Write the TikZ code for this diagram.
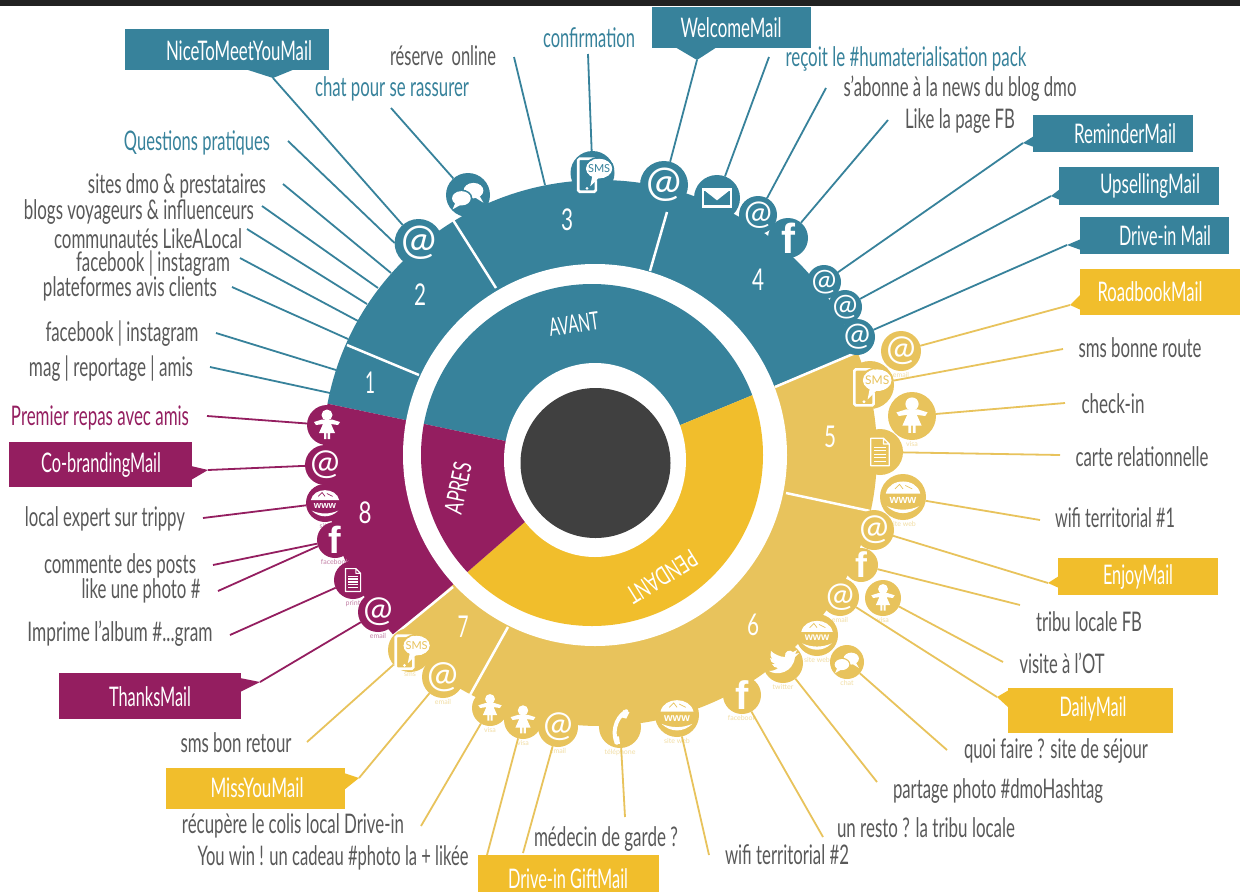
\documentclass[tikz,border=0pt]{standalone}
\usepackage{fontspec}
\usepackage{graphicx}
\setmainfont{Lato}
\newfontfamily\fbold{Liberation Sans Bold}
\definecolor{teal1}{HTML}{37829B}
\definecolor{goldL}{HTML}{E8C35C}
\definecolor{gold}{HTML}{F1BE2C}
\definecolor{plum}{HTML}{941E60}
\definecolor{ink}{HTML}{595959}
\definecolor{hub}{HTML}{404040}
\definecolor{barc}{HTML}{222222}
\tikzset{
 blob/.style={circle,inner sep=0pt,outer sep=0pt},
 sublab/.style={inner sep=0pt,font=\fontsize{7}{7}\selectfont},
 txt/.style={inner sep=0pt,outer sep=0pt,anchor=center},
 conn/.style={line width=1.8pt},
 sep/.style={white,line width=2.5pt},
 icgirl/.pic={\fill[white] (0,-10) circle (5.5);
   \fill[white] (-13,-3) -- (-5,-5.5) -- (5,-5.5) -- (13,-3) -- (11,0) -- (4,-1) -- (8,8) -- (3,8) -- (3,14) -- (0.7,14) -- (0.7,8) -- (-0.7,8) -- (-0.7,14) -- (-3,14) -- (-3,8) -- (-8,8) -- (-4,-1) -- (-11,0) -- cycle;},
 icat/.pic={\node[inner sep=0pt,white] (a) at (0,0) {\pgfmathsetmacro\fsz{1.75*\rr}\fontsize{\fsz}{\fsz}\selectfont @};},
 icf/.pic={\node[inner sep=0pt,white] (a) at (0,0) {\pgfmathsetmacro\fsz{2.1*\rr}\fontsize{\fsz}{\fsz}\fbold f};},
 icsms/.pic={\draw[white,line width=2.6pt,rounded corners=1.5] (-13,-13) rectangle (3,17);
   \fill[white] (-5,14) circle (1.4);
   \fill[white] (6,-4) ellipse (12 and 9);
   \draw[bcol,line width=1.5pt] (6,-4) ellipse (13 and 10);
   \fill[white] (0,2) -- (-2,12) -- (6,4) -- cycle;
   \node[inner sep=0pt,text=bcol] (a) at (6,-4) {\pgfmathsetmacro\fsz{0.5*\rr}\fontsize{\fsz}{\fsz}\selectfont SMS};},
 icchat/.pic={\fill[white] (5,-4) ellipse (9 and 7); \fill[white] (10,0) -- (14,7) -- (6,2) -- cycle;
   \fill[bcol] (-6,3) ellipse (10 and 8);
   \fill[white] (-6,3) ellipse (8.5 and 6.5); \fill[white] (-11,6) -- (-14,13) -- (-5,8) -- cycle;},
 icmail/.pic={\draw[white,line width=2.5pt] (-12,-7.5) rectangle (12,7.5);
   \fill[white] (-12,-7.5) -- (12,-7.5) -- (0,2) -- cycle;},
 icdoc/.pic={\draw[white,line width=1.2pt,line join=round] (-8,-12) -- (3,-12) -- (8,-7) -- (8,12) -- (-8,12) -- cycle (3,-12) -- (3,-7) -- (8,-7);
   \draw[white,line width=1.2pt] (-5,-4) -- (5,-4) (-5,-1) -- (5,-1) (-5,2) -- (5,2) (-5,5) -- (5,5) (-5,8) -- (5,8);},
 icwww/.pic={\fill[white] (-15,-3) .. controls (-12,-17) and (12,-17) .. (15,-3) -- cycle;
   \draw[bcol,line width=.7pt] (-7,-7) -- (-3,-11) -- (0,-7) (2,-10) -- (8,-7);
   \node[inner sep=0pt,white] (a) at (0,3) {\pgfmathsetmacro\fsz{0.5*\rr}\fontsize{\fsz}{\fsz}\fbold www};
   \fill[white] (-14,8) .. controls (-6,16) and (6,16) .. (14,8) .. controls (5,12) and (-5,12) .. (-14,8) -- cycle;},
 icphone/.pic={\draw[white,line width=4pt,line cap=round] (6,-15) .. controls (-6,-8) and (-7,8) .. (-3,15);
   \fill[white] (3,-16) -- (9,-14) -- (6,-8) -- (2,-9) -- cycle (-6,9) -- (-1,9) -- (0,16) -- (-5,16) -- cycle;},
 icbird/.pic={\fill[white] (-14,8) .. controls (-6,13) and (10,10) .. (12,-6) -- (16,-10) -- (12,-9) -- (14,-13) -- (10,-11) .. controls (7,-14) and (1,-12) .. (2,-6) .. controls (-3,-6) and (-9,-9) .. (-12,-12) .. controls (-13,-9) and (-13,-6) .. (-10,-4) -- (-13,-5) .. controls (-13,-2) and (-11,0) .. (-8,1) -- (-11,1) .. controls (-10,3) and (-8,5) .. (-5,5) .. controls (-7,7) and (-11,8) .. (-14,8) -- cycle;},
}
% blob: name, x, y, r, colour, icon, small caption
\newcommand{\blb}[7]{%
  \colorlet{bcol}{#5}\def\rr{#4}%
  \pgfmathsetmacro\bdia{2*#4}\pgfmathsetmacro\bscl{#4/20}%
  \node[blob,fill=#5,minimum size=\bdia pt] (#1) at (#2,#3) {};
  \pic[scale=\bscl] at (#1) {#6};
  \if\relax\detokenize{#7}\relax\else
  \node[sublab,text=#5!55,anchor=north,yshift=-1pt] (#1c) at (#1.south) {#7};
  \fi
}
% text: name, cx, cy, width, colour, text
\newcommand{\tx}[6]{\node[txt,text=#5] (#1) at (#2,#3) {\resizebox{#4pt}{\height}{\fontsize{27}{29}\selectfont #6}};}
% digit: name, cx, cy, width
\newcommand{\dg}[4]{\node[txt,text=white] (n#1) at (#2,#3) {\resizebox{#4pt}{\height}{\fontsize{30}{32}\selectfont #1}};}
% callout: name, x1, y1, x2, y2, colour, tail polygon, tip
\newcommand{\mailbox}[8]{%
  \pgfmathsetmacro\bw{#4-#2}\pgfmathsetmacro\bh{#5-#3}\pgfmathsetmacro\bcx{(#2+#4)/2}\pgfmathsetmacro\bcy{(#3+#5)/2}%
  \node[fill=#6,minimum width=\bw pt,minimum height=\bh pt,inner sep=0pt,outer sep=0pt] (#1) at (\bcx,\bcy) {};
  \fill[#6] #7;
  \coordinate (#1tip) at #8;
}
\begin{document}
\begin{tikzpicture}[x=1pt,y=-1pt]
\useasboundingbox (0,0) rectangle (1240,892);
\fill[white] (0,0) rectangle (1240,892);
\fill[barc] (0,0) rectangle (1240,6);

% outer ring
\begin{scope}
 \clip (596,460) -- (0,335) -- (0,0) -- (1240,0) -- (1240,193) -- cycle;
 \fill[teal1] (600,453) ellipse (277 and 273);
\end{scope}
\begin{scope}
 \clip (596,460) -- (1240,193) -- (1240,892) -- (100,892) -- cycle;
 \fill[goldL] (600,453) ellipse (277 and 273);
\end{scope}
\begin{scope}
 \clip (596,460) -- (100,892) -- (0,892) -- (0,335) -- cycle;
 \fill[plum] (600,453) ellipse (277 and 273);
\end{scope}
\fill[white] (595,455) ellipse (192 and 191);
% inner ring
\begin{scope}
 \clip (596,460) -- (0,335) -- (0,0) -- (1240,0) -- (1240,193) -- cycle;
 \fill[teal1] (592,455) ellipse (171 and 171);
\end{scope}
\begin{scope}
 \clip (596,460) -- (1240,193) -- (1240,892) -- (100,892) -- cycle;
 \fill[gold] (592,455) ellipse (171 and 171);
\end{scope}
\begin{scope}
 \clip (596,460) -- (100,892) -- (0,892) -- (0,335) -- cycle;
 \fill[plum] (592,455) ellipse (171 and 171);
\end{scope}
\fill[white] (595,460) ellipse (91 and 97);
\node[circle,fill=hub,minimum size=150pt,inner sep=0pt] (core) at (595.5,463) {};

% separators
\draw[sep] (347,345) -- (419,375);
\draw[sep] (453,220) -- (496,288);
\draw[sep] (667,212) -- (650,271);
\draw[sep] (786,493) -- (870,511);
\draw[sep] (508,627) -- (470,695);
\draw[sep] (775,387) -- (860,351);
\draw[sep] (393,636) -- (453,587);

% teal icons
\blb{t1}{418.6}{243}{24}{teal1}{icat}{}
\blb{t2}{468}{195}{22}{teal1}{icchat}{}
\blb{t3}{592.5}{173}{22}{teal1}{icsms}{}
\blb{t4}{664}{185}{24}{teal1}{icat}{}
\blb{t5}{717}{198}{23}{teal1}{icmail}{}
\blb{t6}{758}{215}{19}{teal1}{icat}{}
\blb{t7}{788}{238}{20}{teal1}{icf}{}
\blb{t8}{824}{282}{17}{teal1}{icat}{}
\blb{t9}{845}{307}{17}{teal1}{icat}{}
\blb{t10}{857}{337}{18}{teal1}{icat}{}
% gold icons
\blb{y1}{901}{351}{20}{goldL}{icat}{email}
\blb{y2}{870}{385}{24}{goldL}{icsms}{}
\blb{y3}{912}{416}{24}{goldL}{icgirl}{visa}
\blb{y4}{880}{452}{23}{goldL}{icdoc}{}
\blb{y5}{903}{497}{23}{goldL}{icwww}{site web}
\blb{y6}{874}{530}{20}{goldL}{icat}{}
\blb{y7}{861}{565}{17}{goldL}{icf}{}
\blb{y8}{883}{598}{18}{goldL}{icgirl}{visa}
\blb{y9}{840}{597}{19}{goldL}{icat}{email}
\blb{y10}{817}{635}{21}{goldL}{icwww}{site web}
\blb{y11}{847}{662}{17}{goldL}{icchat}{chat}
\blb{y12}{783}{663}{20}{goldL}{icbird}{twitter}
\blb{y13}{742}{695}{19}{goldL}{icf}{facebook}
\blb{y14}{677}{715}{22}{goldL}{icwww}{site web}
\blb{y15}{620}{727}{21}{goldL}{icphone}{téléphone}
\blb{y16}{558}{727}{20}{goldL}{icat}{email}
\blb{y17}{523}{720}{19}{goldL}{icgirl}{visa}
\blb{y18}{490}{708}{18}{goldL}{icgirl}{visa}
\blb{y19}{443}{677}{21}{goldL}{icat}{email}
\blb{y20}{410}{650}{22}{goldL}{icsms}{sms}
% plum icons
\blb{p1}{327}{425}{20}{plum}{icgirl}{}
\blb{p2}{325}{465}{20}{plum}{icat}{}
\blb{p3}{325}{503}{19}{plum}{icwww}{site}
\blb{p4}{335}{540}{18}{plum}{icf}{facebook}
\blb{p5}{353}{580}{19}{plum}{icdoc}{print}
\blb{p6}{378}{612}{20}{plum}{icat}{email}

% ring labels
\dg{1}{370}{383}{10}
\dg{2}{420}{295}{12}
\dg{3}{567}{220}{12}
\dg{4}{758}{280}{12}
\dg{5}{830}{437}{12}
\dg{6}{753}{625}{12}
\dg{7}{463}{627}{11}
\dg{8}{365}{513}{13}
\node[txt,text=white,rotate=8] (avant) at (574,324) {\resizebox{50pt}{\height}{\fontsize{25}{27}\selectfont AVANT}};
\node[txt,text=white,rotate=212] (pendant) at (662,577) {\resizebox{78pt}{\height}{\fontsize{25}{27}\selectfont PENDANT}};
\node[txt,text=white,rotate=78] (apres) at (458,488) {\resizebox{52pt}{\height}{\fontsize{25}{27}\selectfont APRES}};

% mail boxes
\mailbox{bNice}{125}{29}{329}{70}{teal1}{(245,69) -- (273,78) -- (295,69) -- cycle}{(273,78)}
\mailbox{bWelc}{651.5}{7}{811}{48}{teal1}{(675,47) -- (697,60) -- (717,47) -- cycle}{(697,60)}
\mailbox{bRemi}{1033}{115}{1193}{152}{teal1}{(1034,136) -- (1023,143) -- (1034,147) -- cycle}{(1023,143)}
\mailbox{bUps}{1059}{167}{1219}{205}{teal1}{(1060,189) -- (1051,196) -- (1060,200) -- cycle}{(1051,196)}
\mailbox{bDriv}{1080}{217}{1229}{254}{teal1}{(1081,239) -- (1067,245) -- (1081,250) -- cycle}{(1067,245)}
\mailbox{bRoad}{1080}{269}{1240}{315}{gold}{(1081,294) -- (1070,305) -- (1081,310) -- cycle}{(1070,305)}
\mailbox{bEnj}{1058}{558}{1218}{595}{gold}{(1059,576) -- (1048,583) -- (1059,588) -- cycle}{(1048,583)}
\mailbox{bDail}{1008}{688}{1173}{733}{gold}{(1009,690) -- (997,697) -- (1009,708) -- cycle}{(997,697)}
\mailbox{bGift}{477.5}{856}{659}{892}{gold}{(477.5,857) -- (659,857) -- (659,855) -- (477.5,855) -- cycle}{(523,853)}
\mailbox{bMiss}{166}{768}{345}{809}{gold}{(344,773) -- (359,778) -- (344,790) -- cycle}{(359,778)}
\mailbox{bCob}{9}{442}{192}{487}{plum}{(191,466) -- (208,470) -- (191,480) -- cycle}{(208,470)}
\mailbox{bThx}{59}{673}{241}{719}{plum}{(240,678) -- (260,682) -- (240,692) -- cycle}{(260,682)}

% texts
\tx{a1}{239}{51}{146}{white}{NiceToMeetYouMail}
\tx{a2}{392}{89}{154}{teal1}{chat pour se rassurer}
\tx{a3}{443}{56}{106}{ink}{réserve\ \ online}
\tx{a4}{589}{38}{92}{teal1}{confirmation}
\tx{a5}{731}{28}{101}{white}{WelcomeMail}
\tx{a6}{906}{59}{241}{teal1}{reçoit le \#humaterialisation pack}
\tx{a7}{960}{89}{233}{ink}{s’abonne à la news du blog dmo}
\tx{a8}{960}{121}{110}{ink}{Like la page FB}
\tx{a9}{1125}{134}{102}{white}{ReminderMail}
\tx{a10}{1150}{186}{100}{white}{UpsellingMail}
\tx{a11}{1165}{236}{92}{white}{Drive-in Mail}
\tx{a12}{1150}{292}{105}{white}{RoadbookMail}
\tx{a13}{1140}{348}{123}{ink}{sms bonne route}
\tx{a14}{1113}{404}{63}{ink}{check-in}
\tx{a15}{1142}{457}{133}{ink}{carte relationnelle}
\tx{a16}{1115}{518}{120}{ink}{wifi territorial \#1}
\tx{a17}{1138}{577}{70}{white}{EnjoyMail}
\tx{a18}{1089}{622}{106}{ink}{tribu locale FB}
\tx{a19}{1062}{663}{85}{ink}{visite à l’OT}
\tx{a20}{1093}{709}{67}{white}{DailyMail}
\tx{a21}{1056}{751}{184}{ink}{quoi faire ? site de séjour}
\tx{a22}{998}{791}{210}{ink}{partage photo \#dmoHashtag}
\tx{a23}{926}{828}{178}{ink}{un resto ? la tribu locale}
\tx{a24}{787}{855}{124}{ink}{wifi territorial \#2}
\tx{a25}{606}{839}{144}{ink}{médecin de garde ?}
\tx{a26}{568}{879}{120}{white}{Drive-in GiftMail}
\tx{a27}{333}{858}{271}{ink}{You win ! un cadeau \#photo la + likée}
\tx{a28}{293}{826}{222}{ink}{récupère le colis local Drive-in}
\tx{a29}{257}{788}{93}{white}{MissYouMail}
\tx{a30}{236}{743}{111}{ink}{sms bon retour}
\tx{a31}{150}{697}{82}{white}{ThanksMail}
\tx{a32}{120}{634}{185}{ink}{Imprime l’album \#...gram}
\tx{a33}{141}{591}{119}{ink}{like une photo \#}
\tx{a34}{120}{566}{152}{ink}{commente des posts}
\tx{a35}{105}{519}{160}{ink}{local expert sur trippy}
\tx{a36}{101}{465}{120}{white}{Co-brandingMail}
\tx{a37}{100}{418}{178}{plum}{Premier repas avec amis}
\tx{a38}{111}{369}{164}{ink}{mag | reportage | amis}
\tx{a39}{122}{334}{153}{ink}{facebook | instagram}
\tx{a40}{130}{289}{174}{ink}{plateformes avis clients}
\tx{a41}{153}{264}{154}{ink}{facebook | instagram}
\tx{a42}{148}{239}{188}{ink}{communautés LikeALocal}
\tx{a43}{139}{212}{230}{ink}{blogs voyageurs \& influenceurs}
\tx{a44}{177}{186}{178}{ink}{sites dmo \& prestataires}
\tx{a45}{197}{143}{146}{teal1}{Questions pratiques}

% free ends of the connectors
\foreach \nm/\px/\py in {f45/288/141,f44/283/184,f43/262/206,f42/247/229,f41/240/258,f40/232/287,f39/216/333,f38/210/367,
 f3/514/57,f4/588/54,f2/391/108,f6/769/57,f7/826/88,f8/888/120,
 f13/1063/349,f14/1065/403,f15/1060/455,f16/1040/520,f18/1020/605,f19/1003/662,f21/947/750,f22/877/782,f23/823/837,f24/709/855,f25/625/817,f27/487/855,f28/421/826,f30/307/742,
 f37/207/416,f35/203/518,f34/213/565,f33/218/591,f32/230/635,
 e44/391/273,e43/378/288,e42/367/304,e41/358/321,e40/348/339,e39/336/370,e38/330/393,e3/545/185}
 {\coordinate (\nm) at (\px,\py);}

% teal connectors
\begin{scope}[teal1]
\draw[conn] (bNicetip) -- (t1);
\draw[conn] (f2) -- (t2);
\draw[conn] (f45) -- (t1.180);
\draw[conn] (f44) -- (e44);
\draw[conn] (f43) -- (e43);
\draw[conn] (f42) -- (e42);
\draw[conn] (f41) -- (e41);
\draw[conn] (f40) -- (e40);
\draw[conn] (f39) -- (e39);
\draw[conn] (f38) -- (e38);
\draw[conn] (f3) -- (e3);
\draw[conn] (f4) -- (t3);
\draw[conn] (bWelctip) -- (t4);
\draw[conn] (f6) -- (t5);
\draw[conn] (f7) -- (t6);
\draw[conn] (f8) -- (t7);
\draw[conn] (bRemitip) -- (t8);
\draw[conn] (bUpstip) -- (t9);
\draw[conn] (bDrivtip) -- (t10);
\end{scope}
% gold connectors
\begin{scope}[goldL]
\draw[conn] (bRoadtip) -- (y1);
\draw[conn] (f13) -- (y2);
\draw[conn] (f14) -- (y3);
\draw[conn] (f15) -- (y4);
\draw[conn] (f16) -- (y5);
\draw[conn] (bEnjtip) -- (y6);
\draw[conn] (f18) -- (y7);
\draw[conn] (f19) -- (y8);
\draw[conn] (bDailtip) -- (y9);
\draw[conn] (f21) -- (y11);
\draw[conn] (f22) -- (y12);
\draw[conn] (f23) -- (y13);
\draw[conn] (f24) -- (y14);
\draw[conn] (f25) -- (y15);
\draw[conn] (bGifttip) -- (y16);
\draw[conn] (f27) -- (y17);
\draw[conn] (f28) -- (y18);
\draw[conn] (bMisstip) -- (y19);
\draw[conn] (f30) -- (y20);
\end{scope}
% plum connectors
\begin{scope}[plum]
\draw[conn] (f37) -- (p1);
\draw[conn] (bCobtip) -- (p2);
\draw[conn] (f35) -- (p3);
\draw[conn] (f34) -- (p4);
\draw[conn] (f33) -- (p4.200);
\draw[conn] (f32) -- (p5);
\draw[conn] (bThxtip) -- (p6);
\end{scope}
\end{tikzpicture}
\end{document}
